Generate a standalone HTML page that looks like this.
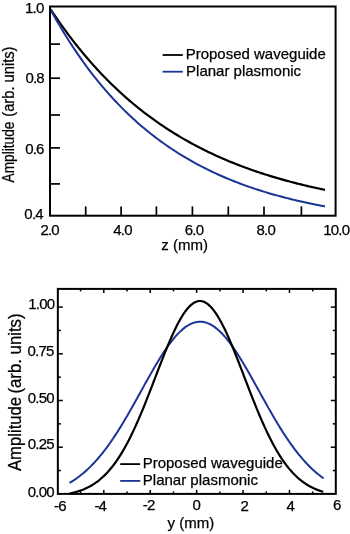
<!DOCTYPE html>
<html><head><meta charset="utf-8"><style>
html,body{margin:0;padding:0;background:#fff;}
body{width:350px;height:534px;overflow:hidden;}
svg{display:block;}
svg text{font-family:"Liberation Sans",Arial,sans-serif;fill:#000;stroke:#000;stroke-width:0.25px;}
</style></head><body>
<svg width="350" height="534" viewBox="0 0 350 534">
<polyline points="50.70,9.38 52.43,11.99 54.15,14.56 55.88,17.10 57.60,19.62 59.33,22.10 61.05,24.55 62.78,26.96 64.50,29.35 66.23,31.71 67.95,34.04 69.68,36.34 71.40,38.61 73.13,40.86 74.85,43.07 76.58,45.26 78.30,47.42 80.03,49.55 81.75,51.66 83.48,53.74 85.20,55.79 86.93,57.82 88.65,59.82 90.38,61.80 92.10,63.75 93.83,65.68 95.55,67.59 97.28,69.47 99.00,71.32 100.73,73.16 102.45,74.97 104.18,76.76 105.91,78.53 107.63,80.27 109.36,81.99 111.08,83.69 112.81,85.37 114.53,87.03 116.26,88.67 117.98,90.29 119.71,91.88 121.43,93.46 123.16,95.02 124.88,96.56 126.61,98.08 128.33,99.58 130.06,101.06 131.78,102.52 133.51,103.97 135.23,105.39 136.96,106.80 138.68,108.19 140.41,109.56 142.13,110.92 143.86,112.26 145.58,113.58 147.31,114.89 149.03,116.18 150.76,117.45 152.48,118.71 154.21,119.95 155.93,121.18 157.66,122.39 159.38,123.59 161.11,124.77 162.84,125.94 164.56,127.09 166.29,128.23 168.01,129.35 169.74,130.46 171.46,131.55 173.19,132.64 174.91,133.70 176.64,134.76 178.36,135.80 180.09,136.83 181.81,137.84 183.54,138.85 185.26,139.84 186.99,140.82 188.71,141.78 190.44,142.74 192.16,143.68 193.89,144.61 195.61,145.53 197.34,146.44 199.06,147.33 200.79,148.22 202.51,149.09 204.24,149.95 205.96,150.80 207.69,151.65 209.41,152.48 211.14,153.30 212.86,154.11 214.59,154.91 216.32,155.70 218.04,156.48 219.77,157.25 221.49,158.01 223.22,158.76 224.94,159.50 226.67,160.23 228.39,160.96 230.12,161.67 231.84,162.38 233.57,163.07 235.29,163.76 237.02,164.44 238.74,165.11 240.47,165.77 242.19,166.43 243.92,167.07 245.64,167.71 247.37,168.34 249.09,168.96 250.82,169.58 252.54,170.19 254.27,170.78 255.99,171.38 257.72,171.96 259.44,172.54 261.17,173.11 262.89,173.67 264.62,174.23 266.34,174.77 268.07,175.32 269.79,175.85 271.52,176.38 273.25,176.90 274.97,177.42 276.70,177.93 278.42,178.43 280.15,178.92 281.87,179.41 283.60,179.90 285.32,180.38 287.05,180.85 288.77,181.31 290.50,181.77 292.22,182.23 293.95,182.68 295.67,183.12 297.40,183.56 299.12,183.99 300.85,184.42 302.57,184.84 304.30,185.25 306.02,185.66 307.75,186.07 309.47,186.47 311.20,186.87 312.92,187.26 314.65,187.64 316.37,188.02 318.10,188.40 319.82,188.77 321.55,189.14 323.27,189.50 325.00,189.86" fill="none" stroke="#000" stroke-width="2.2" stroke-linejoin="round"/>
<polyline points="50.70,9.91 52.43,13.04 54.15,16.12 55.88,19.16 57.60,22.15 59.33,25.10 61.05,28.01 62.78,30.88 64.50,33.71 66.23,36.49 67.95,39.24 69.68,41.94 71.40,44.61 73.13,47.24 74.85,49.84 76.58,52.39 78.30,54.91 80.03,57.39 81.75,59.84 83.48,62.25 85.20,64.63 86.93,66.97 88.65,69.28 90.38,71.56 92.10,73.81 93.83,76.02 95.55,78.20 97.28,80.35 99.00,82.47 100.73,84.56 102.45,86.62 104.18,88.65 105.91,90.65 107.63,92.62 109.36,94.56 111.08,96.48 112.81,98.37 114.53,100.23 116.26,102.06 117.98,103.87 119.71,105.65 121.43,107.41 123.16,109.14 124.88,110.85 126.61,112.53 128.33,114.19 130.06,115.83 131.78,117.44 133.51,119.03 135.23,120.59 136.96,122.14 138.68,123.66 140.41,125.16 142.13,126.64 143.86,128.09 145.58,129.53 147.31,130.95 149.03,132.34 150.76,133.72 152.48,135.07 154.21,136.41 155.93,137.73 157.66,139.03 159.38,140.31 161.11,141.57 162.84,142.81 164.56,144.04 166.29,145.24 168.01,146.44 169.74,147.61 171.46,148.77 173.19,149.91 174.91,151.03 176.64,152.14 178.36,153.23 180.09,154.31 181.81,155.37 183.54,156.42 185.26,157.45 186.99,158.47 188.71,159.47 190.44,160.46 192.16,161.43 193.89,162.39 195.61,163.33 197.34,164.27 199.06,165.19 200.79,166.09 202.51,166.98 204.24,167.86 205.96,168.73 207.69,169.59 209.41,170.43 211.14,171.26 212.86,172.08 214.59,172.89 216.32,173.68 218.04,174.47 219.77,175.24 221.49,176.00 223.22,176.75 224.94,177.50 226.67,178.23 228.39,178.94 230.12,179.65 231.84,180.35 233.57,181.04 235.29,181.72 237.02,182.39 238.74,183.05 240.47,183.70 242.19,184.34 243.92,184.97 245.64,185.60 247.37,186.21 249.09,186.82 250.82,187.41 252.54,188.00 254.27,188.58 255.99,189.15 257.72,189.72 259.44,190.27 261.17,190.82 262.89,191.36 264.62,191.89 266.34,192.41 268.07,192.93 269.79,193.44 271.52,193.94 273.25,194.44 274.97,194.92 276.70,195.40 278.42,195.88 280.15,196.34 281.87,196.81 283.60,197.26 285.32,197.71 287.05,198.15 288.77,198.58 290.50,199.01 292.22,199.43 293.95,199.85 295.67,200.26 297.40,200.66 299.12,201.06 300.85,201.45 302.57,201.84 304.30,202.22 306.02,202.60 307.75,202.97 309.47,203.34 311.20,203.70 312.92,204.05 314.65,204.40 316.37,204.75 318.10,205.09 319.82,205.42 321.55,205.75 323.27,206.08 325.00,206.40" fill="none" stroke="#1a3595" stroke-width="2.0" stroke-linejoin="round"/>
<rect x="50.0" y="6.5" width="285.60" height="209.20" fill="none" stroke="#000" stroke-width="2"/>
<line x1="50.00" y1="44.10" x2="60.00" y2="44.10" stroke="#000" stroke-width="1.7"/>
<line x1="50.00" y1="78.20" x2="60.00" y2="78.20" stroke="#000" stroke-width="1.7"/>
<line x1="50.00" y1="115.00" x2="60.00" y2="115.00" stroke="#000" stroke-width="1.7"/>
<line x1="50.00" y1="147.90" x2="60.00" y2="147.90" stroke="#000" stroke-width="1.7"/>
<line x1="50.00" y1="183.90" x2="60.00" y2="183.90" stroke="#000" stroke-width="1.7"/>
<line x1="85.70" y1="215.70" x2="85.70" y2="206.40" stroke="#000" stroke-width="1.7"/>
<line x1="121.10" y1="215.70" x2="121.10" y2="206.40" stroke="#000" stroke-width="1.7"/>
<line x1="156.40" y1="215.70" x2="156.40" y2="206.40" stroke="#000" stroke-width="1.7"/>
<line x1="192.40" y1="215.70" x2="192.40" y2="206.40" stroke="#000" stroke-width="1.7"/>
<line x1="228.30" y1="215.70" x2="228.30" y2="206.40" stroke="#000" stroke-width="1.7"/>
<line x1="264.00" y1="215.70" x2="264.00" y2="206.40" stroke="#000" stroke-width="1.7"/>
<line x1="301.40" y1="215.70" x2="301.40" y2="206.40" stroke="#000" stroke-width="1.7"/>
<line x1="162.60" y1="55.00" x2="182.80" y2="55.00" stroke="#000" stroke-width="1.8"/>
<line x1="162.60" y1="71.70" x2="182.80" y2="71.70" stroke="#1a3595" stroke-width="1.8"/>
<polyline points="69.50,482.92 70.78,482.17 72.05,481.38 73.33,480.57 74.61,479.73 75.88,478.86 77.16,477.96 78.44,477.03 79.72,476.07 80.99,475.07 82.27,474.04 83.55,472.98 84.82,471.88 86.10,470.75 87.38,469.59 88.65,468.39 89.93,467.15 91.21,465.88 92.48,464.57 93.76,463.23 95.04,461.85 96.31,460.43 97.59,458.98 98.87,457.49 100.15,455.97 101.42,454.40 102.70,452.81 103.98,451.17 105.25,449.50 106.53,447.80 107.81,446.06 109.08,444.28 110.36,442.47 111.64,440.63 112.91,438.75 114.19,436.85 115.47,434.91 116.74,432.93 118.02,430.93 119.30,428.90 120.58,426.85 121.85,424.76 123.13,422.65 124.41,420.52 125.68,418.36 126.96,416.18 128.24,413.98 129.51,411.76 130.79,409.53 132.07,407.28 133.34,405.01 134.62,402.73 135.90,400.45 137.17,398.15 138.45,395.85 139.73,393.55 141.01,391.24 142.28,388.93 143.56,386.62 144.84,384.32 146.11,382.02 147.39,379.74 148.67,377.46 149.94,375.20 151.22,372.95 152.50,370.72 153.77,368.52 155.05,366.33 156.33,364.17 157.61,362.04 158.88,359.94 160.16,357.87 161.44,355.84 162.71,353.84 163.99,351.89 165.27,349.97 166.54,348.10 167.82,346.28 169.10,344.51 170.37,342.79 171.65,341.12 172.93,339.51 174.20,337.96 175.48,336.47 176.76,335.04 178.04,333.67 179.31,332.37 180.59,331.14 181.87,329.97 183.14,328.88 184.42,327.86 185.70,326.92 186.97,326.04 188.25,325.25 189.53,324.53 190.80,323.90 192.08,323.34 193.36,322.86 194.63,322.46 195.91,322.15 197.19,321.92 198.47,321.77 199.74,321.71 201.02,321.73 202.30,321.83 203.57,322.02 204.85,322.29 206.13,322.65 207.40,323.08 208.68,323.60 209.96,324.20 211.23,324.88 212.51,325.63 213.79,326.46 215.06,327.37 216.34,328.35 217.62,329.41 218.90,330.54 220.17,331.73 221.45,333.00 222.73,334.33 224.00,335.73 225.28,337.19 226.56,338.71 227.83,340.29 229.11,341.93 230.39,343.63 231.66,345.37 232.94,347.17 234.22,349.01 235.49,350.90 236.77,352.84 238.05,354.81 239.33,356.83 240.60,358.88 241.88,360.96 243.16,363.08 244.43,365.23 245.71,367.40 246.99,369.59 248.26,371.81 249.54,374.05 250.82,376.31 252.09,378.58 253.37,380.86 254.65,383.15 255.93,385.45 257.20,387.75 258.48,390.06 259.76,392.37 261.03,394.67 262.31,396.98 263.59,399.28 264.86,401.57 266.14,403.85 267.42,406.12 268.69,408.38 269.97,410.62 271.25,412.85 272.52,415.06 273.80,417.25 275.08,419.42 276.36,421.57 277.63,423.69 278.91,425.79 280.19,427.86 281.46,429.90 282.74,431.92 284.02,433.90 285.29,435.86 286.57,437.78 287.85,439.68 289.12,441.54 290.40,443.36 291.68,445.16 292.95,446.91 294.23,448.64 295.51,450.33 296.79,451.98 298.06,453.59 299.34,455.17 300.62,456.72 301.89,458.22 303.17,459.70 304.45,461.13 305.72,462.53 307.00,463.89 308.28,465.22 309.55,466.51 310.83,467.76 312.11,468.98 313.38,470.16 314.66,471.31 315.94,472.42 317.22,473.50 318.49,474.55 319.77,475.56 321.05,476.54 322.32,477.49 323.60,478.41" fill="none" stroke="#1a3595" stroke-width="2.0" stroke-linejoin="round"/>
<polyline points="69.30,493.58 70.58,493.32 71.85,493.03 73.13,492.73 74.41,492.41 75.68,492.07 76.96,491.70 78.23,491.31 79.51,490.89 80.79,490.44 82.06,489.97 83.34,489.47 84.62,488.93 85.89,488.36 87.17,487.76 88.45,487.12 89.72,486.45 91.00,485.73 92.27,484.98 93.55,484.18 94.83,483.34 96.10,482.46 97.38,481.53 98.66,480.55 99.93,479.52 101.21,478.44 102.49,477.30 103.76,476.12 105.04,474.87 106.32,473.57 107.59,472.21 108.87,470.79 110.14,469.31 111.42,467.77 112.70,466.16 113.97,464.49 115.25,462.75 116.53,460.95 117.80,459.08 119.08,457.14 120.36,455.14 121.63,453.06 122.91,450.92 124.18,448.71 125.46,446.44 126.74,444.09 128.01,441.68 129.29,439.20 130.57,436.66 131.84,434.05 133.12,431.38 134.40,428.65 135.67,425.86 136.95,423.01 138.22,420.10 139.50,417.15 140.78,414.14 142.05,411.08 143.33,407.98 144.61,404.84 145.88,401.66 147.16,398.44 148.44,395.20 149.71,391.93 150.99,388.63 152.26,385.32 153.54,382.00 154.82,378.67 156.09,375.34 157.37,372.01 158.65,368.69 159.92,365.39 161.20,362.10 162.48,358.84 163.75,355.61 165.03,352.41 166.31,349.26 167.58,346.16 168.86,343.11 170.13,340.13 171.41,337.21 172.69,334.36 173.96,331.60 175.24,328.92 176.52,326.33 177.79,323.84 179.07,321.45 180.35,319.16 181.62,317.00 182.90,314.95 184.17,313.02 185.45,311.22 186.73,309.55 188.00,308.02 189.28,306.63 190.56,305.39 191.83,304.29 193.11,303.34 194.39,302.55 195.66,301.92 196.94,301.45 198.21,301.14 199.49,300.99 200.77,301.02 202.04,301.23 203.32,301.59 204.60,302.12 205.87,302.81 207.15,303.66 208.43,304.66 209.70,305.81 210.98,307.10 212.25,308.54 213.53,310.12 214.81,311.84 216.08,313.68 217.36,315.65 218.64,317.75 219.91,319.96 221.19,322.28 222.47,324.71 223.74,327.23 225.02,329.85 226.29,332.57 227.57,335.36 228.85,338.23 230.12,341.17 231.40,344.18 232.68,347.25 233.95,350.37 235.23,353.53 236.51,356.74 237.78,359.98 239.06,363.26 240.34,366.55 241.61,369.86 242.89,373.19 244.16,376.52 245.44,379.85 246.72,383.18 247.99,386.49 249.27,389.80 250.55,393.08 251.82,396.35 253.10,399.58 254.38,402.78 255.65,405.95 256.93,409.08 258.20,412.16 259.48,415.20 260.76,418.19 262.03,421.13 263.31,424.02 264.59,426.85 265.86,429.62 267.14,432.33 268.42,434.98 269.69,437.56 270.97,440.08 272.24,442.54 273.52,444.93 274.80,447.25 276.07,449.50 277.35,451.69 278.63,453.80 279.90,455.85 281.18,457.83 282.46,459.74 283.73,461.59 285.01,463.37 286.28,465.08 287.56,466.73 288.84,468.32 290.11,469.84 291.39,471.30 292.67,472.70 293.94,474.04 295.22,475.32 296.50,476.54 297.77,477.71 299.05,478.83 300.33,479.89 301.60,480.90 302.88,481.86 304.15,482.78 305.43,483.65 306.71,484.47 307.98,485.25 309.26,485.99 310.54,486.69 311.81,487.35 313.09,487.98 314.37,488.57 315.64,489.12 316.92,489.65 318.19,490.14 319.47,490.60 320.75,491.04 322.02,491.45 323.30,491.83" fill="none" stroke="#000" stroke-width="2.2" stroke-linejoin="round"/>
<rect x="57.85" y="288.9" width="277.95" height="205.00" fill="none" stroke="#000" stroke-width="2"/>
<line x1="80.59" y1="493.90" x2="80.59" y2="491.40" stroke="#000" stroke-width="1.5"/>
<line x1="80.59" y1="288.90" x2="80.59" y2="291.40" stroke="#000" stroke-width="1.5"/>
<line x1="103.80" y1="493.90" x2="103.80" y2="489.90" stroke="#000" stroke-width="1.5"/>
<line x1="103.80" y1="288.90" x2="103.80" y2="292.90" stroke="#000" stroke-width="1.5"/>
<line x1="127.01" y1="493.90" x2="127.01" y2="491.40" stroke="#000" stroke-width="1.5"/>
<line x1="127.01" y1="288.90" x2="127.01" y2="291.40" stroke="#000" stroke-width="1.5"/>
<line x1="150.22" y1="493.90" x2="150.22" y2="489.90" stroke="#000" stroke-width="1.5"/>
<line x1="150.22" y1="288.90" x2="150.22" y2="292.90" stroke="#000" stroke-width="1.5"/>
<line x1="173.43" y1="493.90" x2="173.43" y2="491.40" stroke="#000" stroke-width="1.5"/>
<line x1="173.43" y1="288.90" x2="173.43" y2="291.40" stroke="#000" stroke-width="1.5"/>
<line x1="196.64" y1="493.90" x2="196.64" y2="489.90" stroke="#000" stroke-width="1.5"/>
<line x1="196.64" y1="288.90" x2="196.64" y2="292.90" stroke="#000" stroke-width="1.5"/>
<line x1="219.85" y1="493.90" x2="219.85" y2="491.40" stroke="#000" stroke-width="1.5"/>
<line x1="219.85" y1="288.90" x2="219.85" y2="291.40" stroke="#000" stroke-width="1.5"/>
<line x1="243.06" y1="493.90" x2="243.06" y2="489.90" stroke="#000" stroke-width="1.5"/>
<line x1="243.06" y1="288.90" x2="243.06" y2="292.90" stroke="#000" stroke-width="1.5"/>
<line x1="266.27" y1="493.90" x2="266.27" y2="491.40" stroke="#000" stroke-width="1.5"/>
<line x1="266.27" y1="288.90" x2="266.27" y2="291.40" stroke="#000" stroke-width="1.5"/>
<line x1="289.48" y1="493.90" x2="289.48" y2="489.90" stroke="#000" stroke-width="1.5"/>
<line x1="289.48" y1="288.90" x2="289.48" y2="292.90" stroke="#000" stroke-width="1.5"/>
<line x1="312.69" y1="493.90" x2="312.69" y2="491.40" stroke="#000" stroke-width="1.5"/>
<line x1="312.69" y1="288.90" x2="312.69" y2="291.40" stroke="#000" stroke-width="1.5"/>
<line x1="57.85" y1="470.55" x2="60.85" y2="470.55" stroke="#000" stroke-width="1.5"/>
<line x1="335.80" y1="470.55" x2="332.80" y2="470.55" stroke="#000" stroke-width="1.5"/>
<line x1="57.85" y1="447.20" x2="62.85" y2="447.20" stroke="#000" stroke-width="1.5"/>
<line x1="335.80" y1="447.20" x2="330.80" y2="447.20" stroke="#000" stroke-width="1.5"/>
<line x1="57.85" y1="423.85" x2="60.85" y2="423.85" stroke="#000" stroke-width="1.5"/>
<line x1="335.80" y1="423.85" x2="332.80" y2="423.85" stroke="#000" stroke-width="1.5"/>
<line x1="57.85" y1="400.50" x2="62.85" y2="400.50" stroke="#000" stroke-width="1.5"/>
<line x1="335.80" y1="400.50" x2="330.80" y2="400.50" stroke="#000" stroke-width="1.5"/>
<line x1="57.85" y1="377.15" x2="60.85" y2="377.15" stroke="#000" stroke-width="1.5"/>
<line x1="335.80" y1="377.15" x2="332.80" y2="377.15" stroke="#000" stroke-width="1.5"/>
<line x1="57.85" y1="353.80" x2="62.85" y2="353.80" stroke="#000" stroke-width="1.5"/>
<line x1="335.80" y1="353.80" x2="330.80" y2="353.80" stroke="#000" stroke-width="1.5"/>
<line x1="57.85" y1="330.45" x2="60.85" y2="330.45" stroke="#000" stroke-width="1.5"/>
<line x1="335.80" y1="330.45" x2="332.80" y2="330.45" stroke="#000" stroke-width="1.5"/>
<line x1="57.85" y1="307.10" x2="62.85" y2="307.10" stroke="#000" stroke-width="1.5"/>
<line x1="335.80" y1="307.10" x2="330.80" y2="307.10" stroke="#000" stroke-width="1.5"/>
<line x1="120.20" y1="464.10" x2="140.10" y2="464.10" stroke="#000" stroke-width="1.8"/>
<line x1="120.20" y1="480.90" x2="140.30" y2="480.90" stroke="#1a3595" stroke-width="1.8"/>
<text id="t0" x="43.50" y="12.60" font-size="15" text-anchor="end" letter-spacing="-0.8">1.0</text>
<text id="t1" x="43.85" y="83.15" font-size="15" text-anchor="end" letter-spacing="-0.8">0.8</text>
<text id="t2" x="43.60" y="154.20" font-size="15" text-anchor="end" letter-spacing="-0.8">0.6</text>
<text id="t3" x="42.80" y="218.60" font-size="15" text-anchor="end" letter-spacing="-0.8">0.4</text>
<text id="t4" x="49.65" y="235.10" font-size="15" text-anchor="middle" letter-spacing="-0.8">2.0</text>
<text id="t5" x="122.50" y="235.15" font-size="15" text-anchor="middle" letter-spacing="-0.8">4.0</text>
<text id="t6" x="194.05" y="235.00" font-size="15" text-anchor="middle" letter-spacing="-0.8">6.0</text>
<text id="t7" x="265.75" y="234.90" font-size="15" text-anchor="middle" letter-spacing="-0.8">8.0</text>
<text id="t8" x="336.25" y="235.15" font-size="15" text-anchor="middle" letter-spacing="-0.8">10.0</text>
<text id="t9" x="184.65" y="250.25" font-size="15" text-anchor="middle">z (mm)</text>
<text id="t10" x="185.65" y="59.35" font-size="15" text-anchor="start">Proposed waveguide</text>
<text id="t11" x="186.05" y="76.00" font-size="15" text-anchor="start">Planar plasmonic</text>
<text id="t12" transform="translate(13.75,182.50) rotate(-90)" font-size="16" text-anchor="start" textLength="61.0" lengthAdjust="spacingAndGlyphs">Amplitude</text>
<text id="t13" transform="translate(13.85,116.70) rotate(-90)" font-size="16" text-anchor="start" textLength="70.2" lengthAdjust="spacingAndGlyphs">(arb. units)</text>
<text id="t14" x="54.25" y="308.75" font-size="15" text-anchor="end" letter-spacing="-0.8">1.00</text>
<text id="t15" x="53.50" y="356.20" font-size="15" text-anchor="end" letter-spacing="-0.8">0.75</text>
<text id="t16" x="53.75" y="402.90" font-size="15" text-anchor="end" letter-spacing="-0.8">0.50</text>
<text id="t17" x="53.75" y="448.75" font-size="15" text-anchor="end" letter-spacing="-0.8">0.25</text>
<text id="t18" x="53.75" y="496.55" font-size="15" text-anchor="end" letter-spacing="-0.8">0.00</text>
<text id="t19" x="59.90" y="510.50" font-size="15" text-anchor="middle" letter-spacing="-0.8">-6</text>
<text id="t20" x="100.25" y="510.50" font-size="15" text-anchor="middle" letter-spacing="-0.8">-4</text>
<text id="t21" x="148.70" y="510.40" font-size="15" text-anchor="middle" letter-spacing="-0.8">-2</text>
<text id="t22" x="196.35" y="510.35" font-size="15" text-anchor="middle" letter-spacing="-0.8">0</text>
<text id="t23" x="244.20" y="510.50" font-size="15" text-anchor="middle" letter-spacing="-0.8">2</text>
<text id="t24" x="290.35" y="510.50" font-size="15" text-anchor="middle" letter-spacing="-0.8">4</text>
<text id="t25" x="336.80" y="510.40" font-size="15" text-anchor="middle" letter-spacing="-0.8">6</text>
<text id="t26" x="190.95" y="527.80" font-size="15" text-anchor="middle">y (mm)</text>
<text id="t27" x="142.65" y="468.45" font-size="15" text-anchor="start">Proposed waveguide</text>
<text id="t28" x="142.85" y="485.25" font-size="15" text-anchor="start">Planar plasmonic</text>
<text id="t29" transform="translate(21.15,471.00) rotate(-90)" font-size="17.5" text-anchor="start" textLength="74.04" lengthAdjust="spacingAndGlyphs">Amplitude</text>
<text id="t30" transform="translate(21.00,393.60) rotate(-90)" font-size="17.5" text-anchor="start" textLength="80.2" lengthAdjust="spacingAndGlyphs">(arb. units)</text>
</svg>
</body></html>
